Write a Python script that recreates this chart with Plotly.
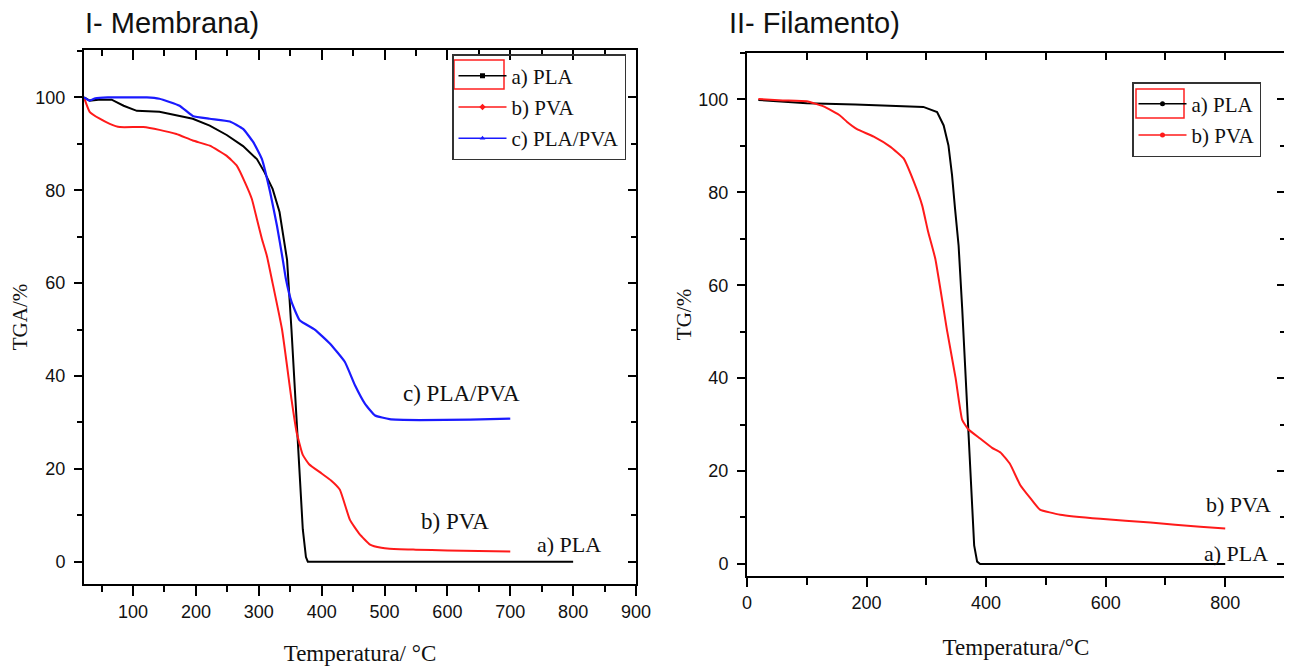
import plotly.graph_objects as go

# ---------------- data: I- Membrana ----------------
pla_m_t = [22, 31, 45, 66, 85, 106, 142, 195, 222, 249, 275, 297, 309, 322, 333, 341, 345, 352, 358, 364, 370, 375, 378, 500, 650, 800]
pla_m_y = [100, 99.3, 99.5, 99.5, 98.2, 97.1, 96.9, 95.4, 93.9, 91.9, 89.5, 86.7, 83.9, 80.3, 75.3, 68, 65, 50, 35, 20, 7, 1, 0, 0, 0, 0]

pva_m_t = [22, 31, 47, 63, 79, 116, 142, 169, 195, 222, 249, 265, 278, 289, 297, 305, 313, 322, 337, 352, 360, 370, 380, 400, 415, 429, 445, 460, 477, 495, 508, 550, 600, 650, 700]
pva_m_y = [100, 96.9, 95.4, 94.3, 93.6, 93.6, 93.0, 92.1, 90.7, 89.6, 87.4, 85.3, 81.7, 78.1, 73.8, 69.5, 65.8, 60, 50, 35, 28, 23, 21, 19, 17.5, 15.5, 9, 6, 3.7, 3, 2.8, 2.6, 2.4, 2.3, 2.2]

mix_m_t = [22, 31, 40, 60, 90, 122, 142, 174, 195, 222, 254, 275, 291, 305, 318, 329, 338, 343, 352, 365, 389, 413, 437, 453, 469, 485, 508, 556, 636, 700]
mix_m_y = [100, 99.3, 99.8, 100, 100, 100, 99.7, 98.2, 96, 95.4, 94.8, 93.2, 90.4, 86.7, 79.6, 72.3, 65.2, 61, 56, 52, 50, 47, 43, 38, 34, 31.5, 30.7, 30.5, 30.6, 30.8]

# ---------------- data: II- Filamento ----------------
pla_f_t = [19, 100, 181, 250, 295, 318, 329, 337, 343, 348, 354, 360, 365, 370, 375, 380, 385, 390, 500, 650, 800]
pla_f_y = [99.9, 99.2, 98.9, 98.6, 98.4, 97.3, 94.4, 90.1, 83.7, 76.5, 68.5, 55, 42, 28, 14, 4, 0.5, 0, 0, 0, 0]

pva_f_t = [19, 60, 100, 128, 156, 167, 184, 212, 240, 262, 279, 293, 303, 315, 335, 349, 360, 370, 390, 410, 424, 440, 457, 475, 490, 524, 591, 675, 758, 800]
pva_f_y = [100.1, 99.8, 99.6, 98.5, 96.5, 95.2, 93.6, 92.0, 89.8, 87.3, 82.3, 77.2, 71.5, 65.7, 50, 40, 31, 29, 27, 25, 24, 21.5, 17, 14, 11.7, 10.6, 9.7, 8.9, 8.0, 7.6]

# labels
names_m = ["a) PLA", "b) PVA", "c) PLA/PVA"]
names_f = ["a) PLA", "b) PVA"]
title_m = "I- Membrana)"
title_f = "II- Filamento)"
xtitle_m = "Temperatura/ °C"
xtitle_f = "Temperatura/°C"
ytitle_m = "TGA/%"
ytitle_f = "TG/%"

BLACK = "#000000"
RED = "#ff1a1a"
BLUE = "#1a1aff"
SERIF = "Liberation Serif, Times New Roman, serif"
SANS = "Liberation Sans, Arial, sans-serif"

fig = go.Figure()

# data traces (left)
fig.add_trace(go.Scatter(x=pla_m_t, y=pla_m_y, mode="lines", line=dict(color=BLACK, width=2), showlegend=False, xaxis="x", yaxis="y"))
fig.add_trace(go.Scatter(x=pva_m_t, y=pva_m_y, mode="lines", line=dict(color=RED, width=2, shape="spline", smoothing=0.4), showlegend=False, xaxis="x", yaxis="y"))
fig.add_trace(go.Scatter(x=mix_m_t, y=mix_m_y, mode="lines", line=dict(color=BLUE, width=2.2, shape="spline", smoothing=0.4), showlegend=False, xaxis="x", yaxis="y"))
# data traces (right)
fig.add_trace(go.Scatter(x=pla_f_t, y=pla_f_y, mode="lines", line=dict(color=BLACK, width=2), showlegend=False, xaxis="x2", yaxis="y2"))
fig.add_trace(go.Scatter(x=pva_f_t, y=pva_f_y, mode="lines", line=dict(color=RED, width=2, shape="spline", smoothing=0.4), showlegend=False, xaxis="x2", yaxis="y2"))

# empty traces so the mirror (top / right) axes get drawn
for xa, ya in [("x3", "y"), ("x", "y3"), ("x4", "y2"), ("x2", "y4")]:
    fig.add_trace(go.Scatter(x=[None], y=[None], mode="lines", showlegend=False, hoverinfo="skip", xaxis=xa, yaxis=ya))

# legend entries
sym_m = ["square", "diamond", "triangle-up"]
col_m = [BLACK, RED, BLUE]
for i, n in enumerate(names_m):
    fig.add_trace(go.Scatter(x=[None], y=[None], mode="lines+markers", name=n,
                             line=dict(color=col_m[i], width=1.5), marker=dict(symbol=sym_m[i], size=5, color=col_m[i]),
                             legend="legend", legendgroup="m%d" % i, xaxis="x", yaxis="y"))
col_f = [BLACK, RED]
for i, n in enumerate(names_f):
    fig.add_trace(go.Scatter(x=[None], y=[None], mode="lines+markers", name=n,
                             line=dict(color=col_f[i], width=1.5), marker=dict(symbol="circle", size=5, color=col_f[i]),
                             legend="legend2", legendgroup="f%d" % i, xaxis="x2", yaxis="y2"))

# the page body has an 8 px margin: size the figure so it fills the window
OFF = 8
W, H = 1292 - OFF, 669 - OFF


def px(v):
    return (v - OFF) / W


def py(v):
    return (669 - v) / H


L_x = [px(84), px(636)]
L_y = [py(584), py(50)]
R_x = [px(747), px(1285)]
R_y = [py(576), py(53)]

tickfont = dict(family=SANS, size=18, color="#111")
axfont = dict(family=SERIF, size=23, color="#111")
ytfont = dict(family=SERIF, size=21, color="#111")

base = dict(showgrid=False, zeroline=False, showline=True, linecolor=BLACK, linewidth=2, automargin=False)

fig.update_layout(
    width=W, height=H, margin=dict(l=0, r=0, t=0, b=0, autoexpand=False),
    paper_bgcolor="white", plot_bgcolor="white",
    xaxis=dict(domain=L_x, anchor="y", range=[22, 900], tickmode="linear", tick0=0, dtick=100,
               ticks="outside", ticklen=10, tickwidth=2, tickcolor=BLACK,
               minor=dict(ticks="outside", dtick=50, tick0=0, ticklen=6, tickwidth=2, tickcolor=BLACK),
               tickfont=tickfont, title=dict(text=xtitle_m, font=axfont, standoff=24), **base),
    yaxis=dict(domain=L_y, anchor="x", range=[-4.8, 110.2], tickmode="linear", tick0=0, dtick=20,
               ticks="outside", ticklen=8, tickwidth=2, tickcolor=BLACK, ticklabelstandoff=5,
               minor=dict(ticks="outside", dtick=10, tick0=0, ticklen=5, tickwidth=2, tickcolor=BLACK),
               tickfont=tickfont, title=dict(text=ytitle_m, font=ytfont, standoff=2), **base),
    xaxis3=dict(overlaying="x", anchor="y", side="top", range=[22, 900], tickmode="linear", tick0=0, dtick=100,
                ticks="inside", ticklen=10, tickwidth=2, tickcolor=BLACK, showticklabels=False,
                minor=dict(ticks="inside", dtick=50, tick0=0, ticklen=6, tickwidth=2, tickcolor=BLACK), **base),
    yaxis3=dict(overlaying="y", anchor="x", side="right", range=[-4.8, 110.2], tickmode="linear", tick0=0, dtick=20,
                ticks="inside", ticklen=8, tickwidth=2, tickcolor=BLACK, showticklabels=False,
                minor=dict(ticks="inside", dtick=10, tick0=0, ticklen=5, tickwidth=2, tickcolor=BLACK), **base),
    xaxis2=dict(domain=R_x, anchor="y2", range=[0, 900], tickmode="linear", tick0=0, dtick=200,
                ticks="outside", ticklen=9, tickwidth=2, tickcolor=BLACK,
                minor=dict(ticks="outside", dtick=100, tick0=0, ticklen=7, tickwidth=2, tickcolor=BLACK),
                tickfont=tickfont, title=dict(text=xtitle_f, font=axfont, standoff=27), **base),
    yaxis2=dict(domain=R_y, anchor="x2", range=[-2.6, 110], tickmode="linear", tick0=0, dtick=20,
                ticks="outside", ticklen=8, tickwidth=2, tickcolor=BLACK, ticklabelstandoff=5,
                minor=dict(ticks="outside", dtick=10, tick0=0, ticklen=5, tickwidth=2, tickcolor=BLACK),
                tickfont=tickfont, title=dict(text=ytitle_f, font=ytfont, standoff=1), **base),
    xaxis4=dict(overlaying="x2", anchor="y2", side="top", range=[0, 900], tickmode="linear", tick0=0, dtick=100,
                ticks="inside", ticklen=7, tickwidth=2, tickcolor=BLACK, showticklabels=False, **base),
    yaxis4=dict(overlaying="y2", anchor="x2", side="right", range=[-2.6, 110], tickmode="linear", tick0=0, dtick=20,
                ticks="inside", ticklen=8, tickwidth=2, tickcolor=BLACK, showticklabels=False,
                minor=dict(ticks="inside", dtick=10, tick0=0, ticklen=5, tickwidth=2, tickcolor=BLACK), **base),
    legend=dict(x=px(452), y=py(54), xanchor="left", yanchor="top", itemwidth=48,
                bgcolor="rgba(255,255,255,0)", bordercolor="#333", borderwidth=1.5, tracegroupgap=1,
                font=dict(family=SERIF, size=21, color="#111")),
    legend2=dict(x=px(1132), y=py(82), xanchor="left", yanchor="top", itemwidth=48,
                 bgcolor="rgba(255,255,255,0)", bordercolor="#333", borderwidth=1.5, tracegroupgap=1,
                 font=dict(family=SERIF, size=21, color="#111")),
)

# red frame around the first legend sample (as in the original figure)
for (x0, x1, y0, y1) in [(454, 504, 60, 89), (1136, 1184, 89, 118)]:
    fig.add_shape(type="rect", xref="paper", yref="paper", x0=px(x0), x1=px(x1), y0=py(y1), y1=py(y0),
                  line=dict(color="#ff2020", width=1.5), fillcolor="rgba(0,0,0,0)", layer="above")

fig.add_annotation(text=title_m, xref="paper", yref="paper", x=px(83), y=py(23), xanchor="left", yanchor="middle",
                   showarrow=False, font=dict(family=SANS, size=29, color="#111"))
fig.add_annotation(text=title_f, xref="paper", yref="paper", x=px(727), y=py(23), xanchor="left", yanchor="middle",
                   showarrow=False, font=dict(family=SANS, size=29, color="#111"))
f23 = dict(family=SERIF, size=23, color="#111")
f22 = dict(family=SERIF, size=22, color="#111")
fig.add_annotation(text=names_m[2], x=623, y=36.2, xref="x", yref="y", showarrow=False, font=f23)
fig.add_annotation(text=names_m[1], x=612, y=8.6, xref="x", yref="y", showarrow=False, font=f23)
fig.add_annotation(text=names_m[0], x=793, y=3.7, xref="x", yref="y", showarrow=False, font=f22)
fig.add_annotation(text=names_f[1], x=822, y=12.7, xref="x2", yref="y2", showarrow=False, font=f22)
fig.add_annotation(text=names_f[0], x=818, y=2.2, xref="x2", yref="y2", showarrow=False, font=f22)

fig.write_html("out.html")
